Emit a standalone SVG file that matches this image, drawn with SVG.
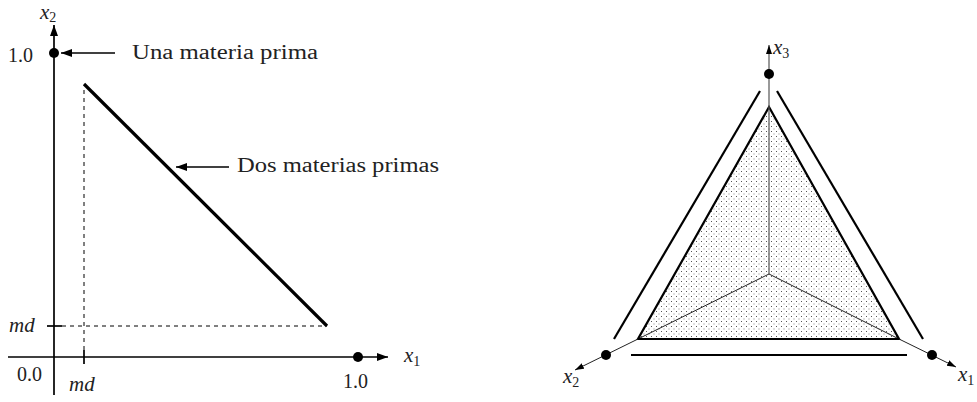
<svg xmlns="http://www.w3.org/2000/svg" width="977" height="402" viewBox="0 0 977 402">
<style>
.t{font-family:"Liberation Serif","DejaVu Serif",serif;font-size:20px;fill:#222}
.m{font-family:"Liberation Serif","DejaVu Serif",serif;font-size:21px;font-style:italic;fill:#222}
.s{font-size:14px;font-style:normal}
.ax{stroke:#000;stroke-width:1.7;fill:none}
.thin{stroke:#222;stroke-width:1;fill:none}
.dash{stroke:#000;stroke-width:1;stroke-dasharray:4 4;fill:none}
.bold{stroke:#000;stroke-width:2.2;fill:none}
</style>
<defs>
<marker id="ah" markerWidth="12" markerHeight="10" refX="11" refY="4" orient="auto" markerUnits="userSpaceOnUse">
<path d="M0,0 L11,4 L0,8 Z" fill="#000"/>
</marker>
<marker id="ahs" markerWidth="10" markerHeight="8" refX="9" refY="3" orient="auto" markerUnits="userSpaceOnUse">
<path d="M0,0 L9,3 L0,6 Z" fill="#000"/>
</marker>
<pattern id="dots" width="5" height="5" patternUnits="userSpaceOnUse">
<rect x="1" y="1" width="1" height="1" fill="#555"/>
<rect x="3.5" y="3.5" width="1" height="1" fill="#888"/>
</pattern>
</defs>

<g id="left-axes">
<line class="ax" x1="54" y1="395" x2="54" y2="25" marker-end="url(#ah)"/>
<line class="ax" x1="8" y1="357" x2="388" y2="357" marker-end="url(#ah)"/>
<line class="ax" x1="84" y1="350" x2="84" y2="364"/>
<line class="ax" x1="47" y1="326" x2="62" y2="326"/>
<circle cx="54" cy="53" r="5" fill="#000"/>
<circle cx="358" cy="357" r="5" fill="#000"/>
<text class="m" x="40" y="19">x<tspan class="s" dy="3">2</tspan></text>
<text class="m" x="404" y="362">x<tspan class="s" dy="4">1</tspan></text>
<text class="t" x="8" y="62">1.0</text>
<text class="t" x="17" y="381">0.0</text>
<text class="t" x="343" y="388">1.0</text>
<text class="m" x="9" y="332">md</text>
<text class="m" x="69" y="391">md</text>
</g>

<g id="left-lines">
<line class="dash" x1="84" y1="90" x2="84" y2="350"/>
<line class="dash" x1="62" y1="326" x2="327" y2="326"/>
<line stroke="#000" stroke-width="3.2" x1="84" y1="84" x2="327" y2="326"/>
</g>

<g id="label-una">
<line class="ax" x1="115" y1="53" x2="61" y2="53" marker-end="url(#ah)"/>
<text class="t" x="132" y="59" textLength="186" lengthAdjust="spacingAndGlyphs">Una materia prima</text>
</g>

<g id="label-dos">
<line class="ax" x1="229" y1="167" x2="176" y2="167" marker-end="url(#ah)"/>
<text class="t" x="237" y="172" textLength="202" lengthAdjust="spacingAndGlyphs">Dos materias primas</text>
</g>

<g id="simplex">
<polygon points="769,107 638,339 899,339" fill="url(#dots)" stroke="none"/>
<line class="thin" x1="769" y1="274" x2="638" y2="339"/>
<line class="thin" x1="769" y1="274" x2="899" y2="339"/>
<polygon points="769,107 638,339 899,339" class="bold"/>
</g>

<g id="outer-lines">
<line class="bold" x1="760" y1="91" x2="614" y2="339"/>
<line class="bold" x1="777" y1="91" x2="923" y2="339"/>
<line class="bold" stroke-width="2.5" x1="631" y1="355" x2="907" y2="355"/>
</g>

<g id="right-axes">
<line stroke="#555" stroke-width="1.2" x1="769" y1="274" x2="769" y2="45" marker-end="url(#ahs)"/>
<line class="thin" x1="638" y1="339" x2="575" y2="370" marker-end="url(#ahs)"/>
<line class="thin" x1="899" y1="339" x2="956" y2="367" marker-end="url(#ahs)"/>
<circle cx="769" cy="74" r="5" fill="#000"/>
<circle cx="606" cy="355" r="5" fill="#000"/>
<circle cx="932" cy="355" r="5" fill="#000"/>
<text class="m" x="773" y="54">x<tspan class="s" dy="4">3</tspan></text>
<text class="m" x="563" y="383">x<tspan class="s" dy="4">2</tspan></text>
<text class="m" x="958" y="381">x<tspan class="s" dy="4">1</tspan></text>
</g>
</svg>
